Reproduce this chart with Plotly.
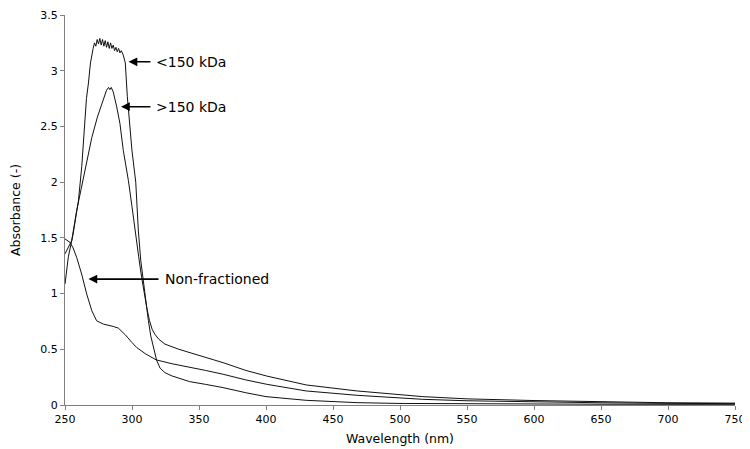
import plotly.graph_objects as go

# ---- data ----
wl_lt150 = [250, 252.5, 256, 260, 262.5, 265, 266, 267.5, 269, 271, 272, 273, 274, 275, 276,
            277, 278, 279, 280, 281, 282, 283, 284, 285, 286, 287, 288, 289, 290, 291, 292,
            293.5, 295, 296.5, 298.5, 300, 302.8, 304.7, 306.5, 308.4, 310, 312.2, 314, 316,
            318.4, 321, 324.6, 330, 337, 343, 355, 368, 385, 400, 430, 468, 500, 550, 600,
            650, 700, 750]
abs_lt150 = [1.085, 1.33, 1.53, 1.83, 2.14, 2.58, 2.75, 2.89, 3.07, 3.2, 3.25, 3.22, 3.28, 3.24,
             3.29, 3.23, 3.28, 3.22, 3.27, 3.21, 3.26, 3.2, 3.25, 3.2, 3.23, 3.18, 3.21, 3.17,
             3.2, 3.16, 3.18, 3.14, 3.07, 2.77, 2.47, 2.28, 2.0, 1.57, 1.3, 1.12, 0.93, 0.76,
             0.62, 0.52, 0.40, 0.33, 0.29, 0.26, 0.23, 0.21, 0.185, 0.156, 0.11, 0.075, 0.042,
             0.021, 0.014, 0.01, 0.008, 0.007, 0.006, 0.006]

wl_gt150 = [250, 255, 258.7, 263.7, 268.7, 270, 274.2, 278.6, 281, 282.5, 283.5, 284.5, 286,
            288.6, 291, 293.5, 295.5, 297.3, 300, 302.2, 305, 307.2, 309, 311, 313, 315, 317,
            320, 324.6, 335, 347, 368, 385, 400.5, 430, 468, 517, 550, 600, 650, 700, 750]
abs_gt150 = [1.356, 1.475, 1.745, 2.045, 2.345, 2.40, 2.585, 2.75, 2.825, 2.85, 2.83, 2.85, 2.81,
             2.675, 2.525, 2.285, 2.15, 2.015, 1.78, 1.566, 1.33, 1.145, 1.0, 0.875, 0.76,
             0.68, 0.636, 0.59, 0.546, 0.50, 0.456, 0.38, 0.31, 0.26, 0.18, 0.126, 0.075,
             0.055, 0.04, 0.028, 0.02, 0.017]

wl_nonfrac = [250, 253.7, 256, 258.7, 262.4, 266.2, 270, 273.6, 278.6, 283, 286, 289.8, 295,
              300, 303.5, 310, 318, 330, 343, 355, 368, 385, 400.5, 430, 468, 517, 550, 600,
              650, 700, 750]
abs_nonfrac = [1.49, 1.46, 1.41, 1.325, 1.176, 0.996, 0.846, 0.756, 0.726, 0.715, 0.705, 0.69,
               0.63, 0.56, 0.516, 0.46, 0.405, 0.37, 0.342, 0.31, 0.276, 0.225, 0.186, 0.126,
               0.087, 0.051, 0.038, 0.027, 0.02, 0.015, 0.012]

x_ticks = [250, 300, 350, 400, 450, 500, 550, 600, 650, 700, 750]
y_ticks = [0, 0.5, 1, 1.5, 2, 2.5, 3, 3.5]
y_tick_text = ["0", "0.5", "1", "1.5", "2", "2.5", "3", "3.5"]

labels = ["<150 kDa", ">150 kDa", "Non-fractioned"]
label_head = [(297.4, 3.08), (291.8, 2.677), (267.5, 1.13)]
label_tail_x = [314.9, 314.9, 320.9]
label_text_x = [316.5, 316.5, 323.0]

FONT = "DejaVu Sans, Verdana, sans-serif"

fig = go.Figure()
for xs, ys in [(wl_lt150, abs_lt150), (wl_gt150, abs_gt150), (wl_nonfrac, abs_nonfrac)]:
    fig.add_trace(go.Scatter(x=xs, y=ys, mode="lines",
                             line=dict(color="#111111", width=1), showlegend=False,
                             hoverinfo="skip"))

for lab, (hx, hy), tx, txx in zip(labels, label_head, label_tail_x, label_text_x):
    fig.add_annotation(x=hx, y=hy, ax=tx, ay=hy, axref="x", ayref="y", xref="x", yref="y",
                       text="", showarrow=True, arrowhead=2, arrowsize=1.1, arrowwidth=1.6,
                       arrowcolor="#000000", standoff=0, startstandoff=0)
    fig.add_annotation(x=txx, y=hy, xref="x", yref="y", text=lab, showarrow=False,
                       xanchor="left", yanchor="middle",
                       font=dict(family=FONT, size=14, color="#000000"))

# page has an 8px body margin; plot area targeted at x 65..735, y 15..404.5 on the page
fig.update_layout(
    width=750, height=449,
    margin=dict(l=57, r=23, t=7, b=52),
    paper_bgcolor="white", plot_bgcolor="white",
    font=dict(family=FONT, size=11, color="#000000"),
)
fig.update_xaxes(range=[250, 750], tickvals=x_ticks, ticks="outside", ticklen=4,
                 tickcolor="#808080", showline=True, linecolor="#808080", linewidth=1,
                 showgrid=False, zeroline=False, tickfont=dict(size=11), automargin=False,
                 title=dict(text="Wavelength (nm)", font=dict(size=12.5), standoff=9))
fig.update_yaxes(range=[0, 3.5], tickvals=y_ticks, ticktext=y_tick_text, ticks="outside",
                 ticklen=4, tickcolor="#808080", showline=True, linecolor="#808080",
                 linewidth=1, showgrid=False, zeroline=False, tickfont=dict(size=11),
                 automargin=False,
                 title=dict(text="Absorbance (-)", font=dict(size=12.5), standoff=16))

fig.write_html("out.html")
